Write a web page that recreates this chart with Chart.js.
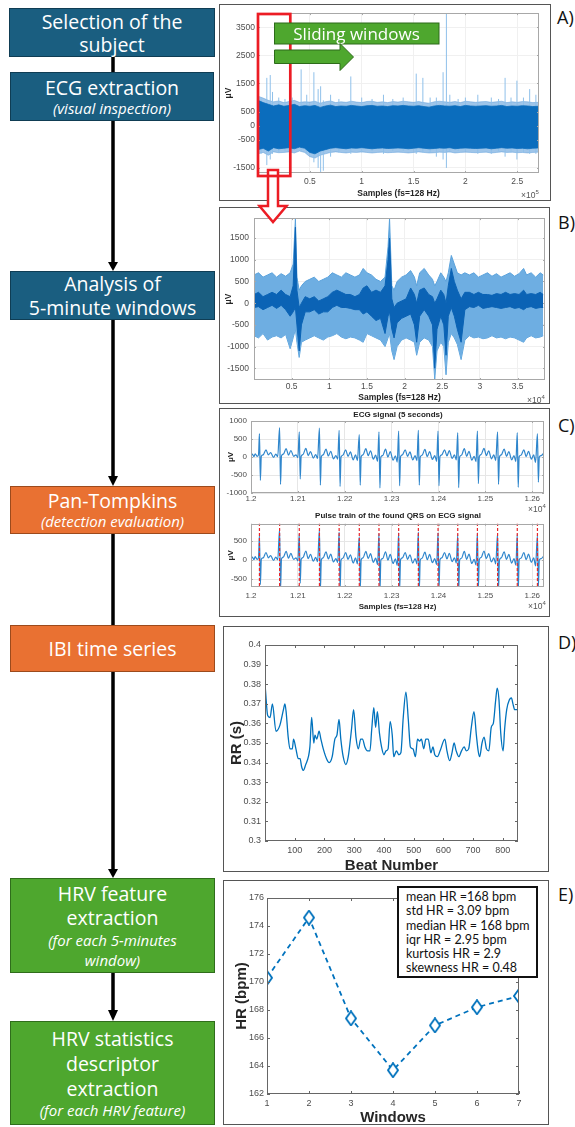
<!DOCTYPE html>
<html>
<head>
<meta charset="utf-8">
<script src="https://cdn.jsdelivr.net/npm/chart.js@4.4.1/dist/chart.umd.min.js"></script>
<style>
  html, body { margin: 0; padding: 0; background: #fff; }
  #page { position: relative; width: 575px; height: 1127px; overflow: hidden; font-family: 'Open Sans', sans-serif; }
  .box { position: absolute; box-sizing: border-box; color: #fff; display: flex; flex-direction: column;
         align-items: center; justify-content: center; text-align: center; }
  .teal   { background: #1a5e80; border: 1.5px solid #0f3d54; }
  .orange { background: #e97132; border: 1.5px solid #9c4a1c; }
  .green  { background: #4ea72e; border: 1.5px solid #2f6d1b; }
  .big { font-size: 19.5px; line-height: 23px; }
  .it  { font-style: italic; font-size: 15px; line-height: 19px; }
  .panel { position: absolute; box-sizing: border-box; border: 1px solid #555; }
  canvas { position: absolute; }
  .lab { position: absolute; font-size: 18px; color: #111; }
  .exp { position: absolute; font-family: 'Liberation Sans', Arial, sans-serif; font-size: 8.5px; color: #555; }
  .exp sup { font-size: 6px; }
  .ttl { position: absolute; font-family: 'Liberation Sans', Arial, sans-serif; font-weight: bold; font-size: 8px; color: #222; text-align: center; white-space: nowrap; }
  #stats { position: absolute; box-sizing: border-box; left: 397px; top: 886px; width: 141px; height: 92px;
           border: 2px solid #111; background: #fff; font-family: Lato, sans-serif; font-size: 12.5px; line-height: 14.3px;
           padding: 2px 0 0 7px; color: #111; }
  svg { position: absolute; left: 0; top: 0; }
</style>
</head>
<body>
<div id="page">

  <!-- flowchart -->
  <div class="box teal big" style="left:9px;top:8px;width:206px;height:49px">Selection of the<br>subject</div>
  <div class="box teal" style="left:10px;top:72px;width:204px;height:49px"><span class="big">ECG extraction</span><span class="it">(visual inspection)</span></div>
  <div class="box teal big" style="left:10px;top:271px;width:205px;height:49px;line-height:24px">Analysis of<br>5-minute windows</div>
  <div class="box orange" style="left:10px;top:486px;width:205px;height:48px"><span class="big">Pan-Tompkins</span><span class="it">(detection evaluation)</span></div>
  <div class="box orange big" style="left:10px;top:625px;width:205px;height:47px">IBI time series</div>
  <div class="box green" style="left:10px;top:878px;width:205px;height:95px"><span class="big" style="line-height:24px">HRV feature<br>extraction</span><span class="it" style="line-height:20px">(for each 5-minutes<br>window)</span></div>
  <div class="box green" style="left:10px;top:1021px;width:205px;height:104px"><span class="big" style="line-height:25px">HRV statistics<br>descriptor<br>extraction</span><span class="it">(for each HRV feature)</span></div>

  <!-- panels -->
  <div class="panel" style="left:219px;top:4px;width:332px;height:197px"></div>
  <div class="panel" style="left:219px;top:207px;width:331px;height:197px"></div>
  <div class="panel" style="left:219px;top:408px;width:331px;height:209px"></div>
  <div class="panel" style="left:223px;top:626px;width:326px;height:246px"></div>
  <div class="panel" style="left:223px;top:880px;width:326px;height:245px"></div>

  <canvas id="cA"  width="330" height="195" style="left:220px;top:5px"></canvas>
  <canvas id="cB"  width="329" height="195" style="left:220px;top:208px"></canvas>
  <canvas id="cC1" width="329" height="96"  style="left:220px;top:409px"></canvas>
  <canvas id="cC2" width="329" height="100" style="left:220px;top:515px"></canvas>
  <canvas id="cD"  width="324" height="252" style="left:224px;top:627px"></canvas>
  <canvas id="cE"  width="324" height="246" style="left:224px;top:881px"></canvas>

  <div class="exp" style="left:521px;top:189px">×10<sup>5</sup></div>
  <div class="exp" style="left:527px;top:394px">×10<sup>4</sup></div>
  <div class="exp" style="left:528px;top:503px">×10<sup>4</sup></div>
  <div class="exp" style="left:528px;top:600px">×10<sup>4</sup></div>
  <div class="ttl" style="left:298px;width:200px;top:410px">ECG signal (5 seconds)</div>
  <div class="ttl" style="left:248px;width:300px;top:511px">Pulse train of the found QRS on ECG signal</div>

  <div class="lab" style="left:557px;top:5px">A)</div>
  <div class="lab" style="left:558px;top:210px">B)</div>
  <div class="lab" style="left:558px;top:413px">C)</div>
  <div class="lab" style="left:558px;top:630px">D)</div>
  <div class="lab" style="left:558px;top:882px">E)</div>

  <div id="stats">mean HR =168 bpm<br>std HR = 3.09 bpm<br>median HR = 168 bpm<br>iqr HR = 2.95 bpm<br>kurtosis HR = 2.9<br>skewness HR = 0.48</div>

  <svg width="575" height="1127">
    <!-- connectors -->
    <g stroke="#000" stroke-width="3.5">
      <line x1="113" y1="57" x2="113" y2="72"/>
      <line x1="113" y1="121" x2="113" y2="263"/>
      <line x1="113" y1="320" x2="113" y2="477"/>
      <line x1="113" y1="534" x2="113" y2="625"/>
      <line x1="113" y1="672" x2="113" y2="870"/>
      <line x1="113" y1="973" x2="113" y2="1011"/>
    </g>
    <g fill="#000">
      <polygon points="108,262 118,262 113,271"/>
      <polygon points="108,476 118,476 113,486"/>
      <polygon points="108,869 118,869 113,878"/>
      <polygon points="108,1010 118,1010 113,1021"/>
    </g>
    <!-- sliding window overlay -->
    <polygon points="268,170 278,170 278,206 286.5,206 273,222 259.5,206 268,206" fill="#fff" stroke="#ec1c24" stroke-width="2.5"/>
    <rect x="258" y="14" width="32.3" height="162" fill="none" stroke="#ec1c24" stroke-width="2.7"/>
    <rect x="274.5" y="23" width="164.5" height="21" fill="#4ea72e" stroke="#2d6b1a" stroke-width="1"/>
    <text x="356.5" y="39.5" fill="#fff" font-family="Open Sans" font-size="17" text-anchor="middle">Sliding windows</text>
    <polygon points="274.5,50 340,50 340,43.5 353.5,57 340,70.5 340,63.5 274.5,63.5" fill="#4ea72e" stroke="#2d6b1a" stroke-width="1"/>
  </svg>
</div>

<script>
/* ── A) whole recording: band envelope, lighter fringe, isolated spikes ── */
const aX  = [0, 5000, 10000, 15000, 20000, 25000, 30000, 35000, 40000, 45000, 50000, 55000, 60000, 65000, 70000, 75000, 80000, 85000, 90000, 95000, 100000, 105000, 110000, 115000, 120000, 125000, 130000, 135000, 140000, 145000, 150000, 155000, 160000, 165000, 170000, 175000, 180000, 185000, 190000, 195000, 200000, 205000, 210000, 215000, 220000, 225000, 230000, 235000, 240000, 245000, 250000, 255000, 260000, 265000, 270000];
const aUp = [900, 820, 760, 700, 740, 690, 720, 760, 680, 710, 690, 720, 650, 700, 730, 680, 700, 690, 720, 700, 680, 710, 720, 690, 700, 680, 710, 700, 720, 700, 690, 710, 680, 660, 700, 720, 700, 690, 710, 680, 720, 700, 690, 700, 710, 690, 700, 720, 680, 700, 690, 710, 700, 680, 690];
const aLo = [-850, -800, -900, -780, -820, -800, -780, -820, -760, -800, -950, -1000, -900, -850, -800, -780, -800, -820, -790, -800, -780, -800, -820, -800, -790, -810, -800, -790, -800, -820, -800, -780, -800, -820, -810, -790, -800, -780, -820, -800, -790, -800, -810, -800, -790, -820, -800, -780, -800, -790, -810, -800, -820, -800, -790];
const aFrUp = [1050, 980, 900, 850, 880, 820, 860, 900, 830, 850, 840, 870, 800, 850, 880, 820, 850, 830, 870, 840, 820, 860, 870, 830, 850, 820, 860, 840, 870, 850, 830, 860, 820, 800, 850, 870, 850, 830, 860, 820, 870, 850, 830, 850, 860, 830, 850, 870, 820, 850, 830, 860, 850, 820, 830];
const aFrLo = [-1000, -950, -1050, -930, -960, -950, -930, -970, -900, -950, -1100, -1150, -1050, -1000, -950, -930, -950, -970, -940, -950, -930, -950, -970, -950, -940, -960, -950, -940, -950, -970, -950, -930, -950, -970, -960, -940, -950, -930, -970, -950, -940, -950, -960, -950, -940, -970, -950, -930, -950, -940, -960, -950, -970, -950, -940];
const aSpikeX  = [3000, 8500, 11800, 14000, 20000, 26000, 33000, 41600, 47000, 53900, 58000, 60400, 63000, 70000, 78000, 89500, 100000, 110000, 121000, 130000, 140000, 152600, 159000, 166000, 172000, 178500, 181700, 185000, 193000, 200000, 212000, 225000, 232000, 238300, 244000, 249700, 256000, 262000, 268000];
const aSpikeLo = [-1000, -1400, -1200, -1000, -950, -900, -950, -900, -1000, -1300, -1500, -1700, -1600, -1100, -950, -1000, -950, -900, -1000, -900, -900, -1000, -950, -950, -1100, -1200, -1500, -950, -900, -900, -1000, -1000, -900, -1100, -950, -1200, -950, -1000, -1000];
const aSpikeHi = [1000, 1700, 1800, 1200, 1000, 950, 1000, 2000, 1100, 1900, 1300, 1400, 900, 1100, 950, 1750, 1000, 950, 1100, 950, 1000, 1850, 1700, 1000, 1000, 1900, 4000, 1100, 950, 1000, 1100, 1000, 950, 1700, 1000, 1600, 1000, 1300, 1100];
const aXTicks = [50000, 100000, 150000, 200000, 250000];
const aYTicks = [-1500, -500, 0, 500, 1500, 2500, 3500];

/* ── B) one 5-minute window: light (full) and dark (core) envelopes ── */
const bX = [0, 600, 1200, 1800, 2400, 3000, 3600, 4200, 4800, 5200, 5500, 5700, 6000, 6300, 6800, 7400, 8000, 8600, 9200, 9800, 10400, 11000, 11600, 12200, 12800, 13400, 14000, 14500, 15000, 15600, 16200, 16800, 17400, 17800, 18000, 18300, 18600, 19000, 19600, 20200, 20800, 21300, 21600, 22000, 22600, 23200, 23700, 24000, 24300, 24800, 25200, 25500, 25800, 26200, 26600, 27000, 27500, 28000, 28600, 29200, 29800, 30400, 31000, 31600, 32200, 32800, 33400, 34000, 34600, 35200, 35800, 36200, 36800, 37400, 38000, 38400];
const bLightUp = [650, 700, 600, 650, 700, 600, 680, 620, 700, 900, 1950, 600, 300, 400, 500, 550, 600, 500, 550, 600, 700, 650, 600, 700, 650, 600, 650, 800, 700, 650, 550, 500, 600, 1300, 1950, 400, 300, 500, 600, 650, 750, 600, 400, 700, 800, 650, 550, 400, 500, 700, 600, 500, 700, 1100, 900, 700, 650, 700, 650, 700, 600, 650, 700, 620, 680, 600, 650, 700, 620, 680, 800, 650, 700, 600, 700, 650];
const bLightLo = [-750, -800, -700, -850, -780, -750, -800, -720, -1050, -800, -600, -900, -1250, -900, -850, -800, -750, -800, -850, -780, -750, -700, -780, -820, -780, -800, -850, -900, -700, -750, -800, -850, -1000, -800, -700, -1100, -1300, -1000, -850, -800, -850, -900, -1200, -900, -800, -850, -1000, -1750, -1100, -900, -1000, -1650, -900, -700, -800, -950, -1300, -850, -750, -800, -780, -820, -800, -750, -800, -780, -820, -780, -800, -850, -900, -800, -750, -800, -780, -750];
const bDarkUp = [200, 250, 150, 200, 250, 200, 300, 200, 150, 400, 1750, 300, -100, 0, 150, 100, 150, 50, 100, 150, 250, 300, 250, 200, 200, 150, 200, 350, 400, 250, 300, 250, 400, 1000, 1500, 100, -100, 0, 50, 100, 350, 200, 0, 300, 350, 200, 150, 0, 100, 300, 200, 0, 400, 800, 500, 300, 100, 250, 250, 200, 250, 200, 200, 180, 220, 200, 250, 200, 220, 200, 300, 200, 220, 200, 250, 200];
const bDarkLo = [-100, -80, -150, -100, -50, -120, -50, -150, -300, -200, -100, -500, -1100, -500, -200, -200, -150, -250, -200, -200, -100, -50, -100, -100, -120, -150, -150, -250, -200, -300, -400, -350, -700, -300, -200, -600, -800, -450, -350, -300, -250, -500, -900, -300, -150, -300, -500, -1500, -600, -300, -500, -1200, -300, -100, -300, -600, -900, -150, -80, -100, -50, -120, -100, -80, -100, -120, -100, -80, -120, -100, -150, -100, -80, -120, -100, -100];
const bXTicks = [5000, 10000, 15000, 20000, 25000, 30000, 35000];
const bYTicks = [-1500, -1000, -500, 0, 500, 1000, 1500];

/* ── C) 5 seconds of ECG and detected QRS ── */
const ecgX = [12000, 12003, 12006, 12009, 12013, 12016,
  12018, 12020, 12022, 12026, 12032, 12037, 12042, 12048, 12053, 12057,
  12061, 12063, 12065, 12069, 12075, 12080, 12085, 12091, 12096, 12100,
  12103, 12105, 12107, 12111, 12117, 12122, 12127, 12133, 12138, 12142,
  12146, 12148, 12150, 12154, 12160, 12165, 12170, 12176, 12181, 12185,
  12188, 12190, 12192, 12196, 12202, 12207, 12212, 12218, 12223, 12227,
  12231, 12233, 12235, 12239, 12245, 12250, 12255, 12261, 12266, 12270,
  12273, 12275, 12277, 12281, 12287, 12292, 12297, 12303, 12308, 12312,
  12315, 12317, 12319, 12323, 12329, 12334, 12339, 12345, 12350, 12354,
  12357, 12359, 12361, 12365, 12371, 12376, 12381, 12387, 12392, 12396,
  12399, 12401, 12403, 12407, 12413, 12418, 12423, 12429, 12434, 12438,
  12441, 12443, 12445, 12449, 12455, 12460, 12465, 12471, 12476, 12480,
  12483, 12485, 12487, 12491, 12497, 12502, 12507, 12513, 12518, 12522,
  12526, 12528, 12530, 12534, 12540, 12545, 12550, 12556, 12561, 12565,
  12568, 12570, 12572, 12576, 12582, 12587, 12592, 12598, 12603, 12607,
  12611, 12613, 12615, 12619, 12625];
const ecgY = [30, 80, 10, 90, 20, 60,
  650, -650, 20, 60, 200, 60, 120, -10, 80, 10,
  820, -760, 30, 80, 230, 50, 180, 20, 60, -20,
  700, -610, 20, 70, 240, 40, 150, -30, 70, -40,
  800, -780, 10, 60, 220, 30, 160, -50, 40, -60,
  740, -820, 0, 50, 200, 20, 140, -80, 60, -100,
  620, -780, 10, 60, 230, 40, 170, -60, 50, -120,
  700, -860, 0, 40, 220, 0, 150, -90, 30, -140,
  720, -800, 10, 60, 200, 20, 140, -80, 40, -100,
  740, -780, 0, 50, 210, 10, 150, -70, 40, -120,
  720, -800, 10, 60, 200, 30, 180, -40, 60, -80,
  680, -850, 0, 50, 230, 20, 160, -90, 20, -130,
  720, -740, 10, 70, 240, 40, 170, -50, 60, -100,
  700, -760, 0, 60, 220, 20, 150, -80, 40, -130,
  680, -840, 10, 50, 200, 10, 160, -60, 60, -150,
  650, -700, 0, 40, 120];
const qrsX = [12018, 12061, 12103, 12146, 12188, 12231, 12273, 12315, 12357, 12399, 12441, 12483, 12526, 12568, 12611];
const cXTicks  = [12000, 12100, 12200, 12300, 12400, 12500, 12600];
const c1YTicks = [-1000, -500, 0, 500, 1000];
const c2YTicks = [-500, 0, 500];

/* ── D) IBI series ── */
const rrBeat = [1, 9, 17, 25, 37, 50, 62, 67, 71, 78, 84, 92, 96, 104, 112, 118, 123, 129, 137, 146, 151, 157, 164, 168, 174, 182, 188, 196, 207, 216, 226, 235, 242, 249, 255, 263, 272, 280, 291, 298, 306, 314, 322, 328, 336, 345, 353, 359, 366, 372, 378, 385, 392, 400, 407, 414, 421, 428, 433, 442, 450, 457, 465, 474, 482, 489, 498, 506, 513, 520, 526, 534, 541, 549, 558, 565, 571, 580, 589, 605, 612, 621, 629, 636, 643, 652, 661, 670, 677, 685, 694, 703, 711, 717, 722, 730, 737, 745, 753, 761, 768, 776, 781, 787, 793, 801, 806, 813, 822, 829, 834, 840, 851];
const rrSec  = [0.378, 0.364, 0.363, 0.370, 0.356, 0.359, 0.367, 0.370, 0.366, 0.353, 0.347, 0.347, 0.352, 0.347, 0.342, 0.342, 0.338, 0.336, 0.339, 0.343, 0.348, 0.363, 0.350, 0.354, 0.352, 0.356, 0.352, 0.347, 0.342, 0.340, 0.343, 0.352, 0.354, 0.362, 0.352, 0.343, 0.339, 0.343, 0.357, 0.367, 0.353, 0.347, 0.352, 0.352, 0.348, 0.346, 0.346, 0.357, 0.368, 0.358, 0.366, 0.355, 0.348, 0.344, 0.346, 0.347, 0.361, 0.354, 0.343, 0.346, 0.344, 0.345, 0.363, 0.376, 0.362, 0.348, 0.347, 0.343, 0.352, 0.351, 0.352, 0.347, 0.352, 0.352, 0.345, 0.348, 0.344, 0.343, 0.346, 0.352, 0.346, 0.341, 0.345, 0.350, 0.346, 0.343, 0.346, 0.348, 0.346, 0.347, 0.358, 0.366, 0.354, 0.346, 0.343, 0.350, 0.353, 0.347, 0.346, 0.358, 0.360, 0.372, 0.378, 0.372, 0.355, 0.346, 0.357, 0.367, 0.372, 0.373, 0.370, 0.367, 0.367];
const dXTicks = [100, 200, 300, 400, 500, 600, 700, 800];
const dYTicks = [0.3, 0.31, 0.32, 0.33, 0.34, 0.35, 0.36, 0.37, 0.38, 0.39, 0.4];

/* ── E) mean HR per window ── */
const eWin = [1, 2, 3, 4, 5, 6, 7];
const eHr  = [170.3, 174.6, 167.4, 163.7, 166.9, 168.2, 169.0];
const eYTicks = [162, 164, 166, 168, 170, 172, 174, 176];

/* ── 工具 ── */
const BLUE = '#0072BD';
Chart.defaults.font.family = "'Liberation Sans', Arial, sans-serif";
Chart.defaults.animation = false;

const pts  = (xs, ys) => xs.map((x, i) => ({ x, y: ys[i] }));
const segs = (xs, lo, hi) => xs.flatMap((x, i) => [{ x, y: lo[i] }, { x, y: hi[i] }, { x, y: null }]);

// MATLAB style box with inward ticks
const boxTicks = {
  id: 'boxTicks',
  afterDatasetsDraw(chart, args, o) {
    const { ctx, chartArea: a, scales } = chart;
    const L = o.len || 3;
    ctx.save();
    ctx.strokeStyle = o.color || '#888';
    ctx.lineWidth = 1;
    ctx.beginPath();
    scales.x.ticks.forEach(t => {
      const p = Math.round(scales.x.getPixelForValue(t.value)) + 0.5;
      ctx.moveTo(p, a.bottom); ctx.lineTo(p, a.bottom - L);
      ctx.moveTo(p, a.top);    ctx.lineTo(p, a.top + L);
    });
    scales.y.ticks.forEach(t => {
      const p = Math.round(scales.y.getPixelForValue(t.value)) + 0.5;
      ctx.moveTo(a.left, p);  ctx.lineTo(a.left + L, p);
      ctx.moveTo(a.right, p); ctx.lineTo(a.right - L, p);
    });
    ctx.stroke();
    ctx.strokeRect(Math.round(a.left) + 0.5, Math.round(a.top) + 0.5, Math.round(a.width) - 1, Math.round(a.height) - 1);
    ctx.restore();
  }
};

function axis(o) {
  return {
    type: 'linear', min: o.min, max: o.max,
    afterFit: s => { if (o.w != null) s.width = o.w; if (o.h != null) s.height = o.h; },
    afterBuildTicks: s => { s.ticks = o.ticks.map(v => ({ value: v })); },
    grid: { display: !!o.grid, color: o.grid || '#eee', drawTicks: false },
    border: { display: false },
    ticks: { padding: o.pad, color: '#4d4d4d', font: { size: o.fs || 8.5 }, autoSkip: false, maxRotation: 0,
             callback: o.fmt || (v => String(v)) },
    title: o.title
      ? { display: true, text: o.title, color: '#262626', font: { size: o.tfs || 8.5, weight: 'bold' }, padding: o.tpad }
      : { display: false },
  };
}

function line(data, extra) {
  return Object.assign({ type: 'line', data, borderColor: BLUE, borderWidth: 1, pointRadius: 0,
                         tension: 0, fill: false, spanGaps: false, clip: 0 }, extra);
}

function mk(id, datasets, x, y, pad, box) {
  return new Chart(document.getElementById(id), {
    type: 'line',
    data: { datasets },
    options: {
      responsive: false, maintainAspectRatio: false,
      layout: { padding: pad },
      plugins: { legend: { display: false }, tooltip: { enabled: false }, boxTicks: box },
      scales: { x, y },
    },
    plugins: [boxTicks],
  });
}

/* A */
mk('cA', [
  line(pts(aX, aUp), { fill: '+1', backgroundColor: '#0b6dbd', borderColor: '#0b6dbd', borderWidth: 0.8 }),
  line(pts(aX, aLo), { borderColor: '#0b6dbd', borderWidth: 0.8 }),
  line(segs(aSpikeX, aSpikeLo, aSpikeHi), { borderColor: '#8fc0ea', borderWidth: 1 }),
  line(pts(aX, aFrUp), { fill: '+1', backgroundColor: 'rgba(80,150,215,0.55)', borderColor: 'rgba(80,150,215,0.55)', borderWidth: 0.8 }),
  line(pts(aX, aFrLo), { borderColor: 'rgba(80,150,215,0.55)', borderWidth: 0.8 }),
],
  axis({ min: 0, max: 271000, ticks: aXTicks, h: 27, pad: 4, fmt: v => String(v / 1e5), grid: '#f0f0f0',
         title: 'Samples (fs=128 Hz)', tpad: { top: 0, bottom: 1 } }),
  axis({ min: -1680, max: 4000, ticks: aYTicks, w: 38, pad: 3, grid: '#f0f0f0',
         title: 'μV', tpad: { top: 4, bottom: 0 } }),
  { top: 8, right: 11, left: 0, bottom: 0 }, { color: '#a8a8a8', len: 2 });

/* B */
mk('cB', [
  line(pts(bX, bDarkUp), { fill: '+1', backgroundColor: '#0b63b5', borderColor: '#0b63b5', borderWidth: 1 }),
  line(pts(bX, bDarkLo), { borderColor: '#0b63b5', borderWidth: 1 }),
  line(pts(bX, bLightUp), { fill: '+1', backgroundColor: '#6eaee2', borderColor: '#5aa2dc', borderWidth: 1 }),
  line(pts(bX, bLightLo), { borderColor: '#5aa2dc', borderWidth: 1 }),
],
  axis({ min: 0, max: 38640, ticks: bXTicks, h: 23, pad: 2, fmt: v => String(v / 1e4), grid: '#f0f0f0',
         title: 'Samples (fs=128 Hz)', tpad: { top: 0, bottom: 0 } }),
  axis({ min: -1770, max: 1960, ticks: bYTicks, w: 34, pad: 5, grid: '#f0f0f0',
         title: 'μV', tpad: { top: 4, bottom: 0 } }),
  { top: 5, right: 4, left: 0, bottom: 0 }, { color: '#a8a8a8', len: 2 });

/* C top */
const cFmt = v => String(+(v / 1e4).toFixed(2));
mk('cC1', [
  line(pts(ecgX, ecgY), { borderColor: '#2f86cc', borderWidth: 1.2, cubicInterpolationMode: 'monotone' }),
],
  axis({ min: 12000, max: 12625, ticks: cXTicks, h: 12, pad: 1, fs: 8, fmt: cFmt, grid: '#e6e6e6' }),
  axis({ min: -1000, max: 1000, ticks: c1YTicks, w: 31, pad: 4, fs: 8, grid: '#e6e6e6',
         title: 'μV', tfs: 8, tpad: { top: 6, bottom: 0 } }),
  { top: 12, right: 5, left: 0, bottom: 0 }, { color: '#a8a8a8', len: 2 });

/* C bottom */
mk('cC2', [
  line(qrsX.flatMap(x => [{ x, y: -2000 }, { x, y: 2000 }, { x, y: null }]), { borderColor: '#e8262a', borderWidth: 1.2, borderDash: [3, 2] }),
  line(pts(ecgX, ecgY), { borderColor: '#2f86cc', borderWidth: 1.2, cubicInterpolationMode: 'monotone' }),
],
  axis({ min: 12000, max: 12625, ticks: cXTicks, h: 28, pad: 4, fs: 8, fmt: cFmt, grid: '#e6e6e6',
         title: 'Samples (fs=128 Hz)', tfs: 8, tpad: { top: 0, bottom: 3 } }),
  axis({ min: -710, max: 958, ticks: c2YTicks, w: 31, pad: 4, fs: 8, grid: '#e6e6e6',
         title: 'μV', tfs: 8, tpad: { top: 6, bottom: 0 } }),
  { top: 5, right: 5, left: 0, bottom: 0 }, { color: '#a8a8a8', len: 2 });

/* D */
mk('cD', [
  line(pts(rrBeat, rrSec), { borderColor: BLUE, borderWidth: 1.3, cubicInterpolationMode: 'monotone' }),
],
  axis({ min: 0, max: 851, ticks: dXTicks, h: 38, pad: 4, fs: 9,
         title: 'Beat Number', tfs: 15, tpad: { top: 0, bottom: 4 } }),
  axis({ min: 0.3, max: 0.4, ticks: dYTicks, w: 41, pad: 4, fs: 9,
         title: 'RR (s)', tfs: 15, tpad: { top: 4, bottom: 0 } }),
  { top: 18, right: 30, left: 0, bottom: 0 }, { color: '#666', len: 3 });

/* E */
const diamond = document.createElement('canvas');
diamond.width = 12; diamond.height = 16;
(() => {
  const g = diamond.getContext('2d');
  g.fillStyle = '#fff'; g.strokeStyle = BLUE; g.lineWidth = 1.8;
  g.beginPath(); g.moveTo(6, 1); g.lineTo(11, 8); g.lineTo(6, 15); g.lineTo(1, 8); g.closePath();
  g.fill(); g.stroke();
})();
mk('cE', [
  line(pts(eWin, eHr), { borderColor: BLUE, borderWidth: 1.8, borderDash: [5, 4], pointStyle: diamond, pointRadius: 7 }),
],
  axis({ min: 1, max: 7, ticks: eWin, h: 33, pad: 4, fs: 9,
         title: 'Windows', tfs: 15, tpad: { top: 0, bottom: 0 } }),
  axis({ min: 162, max: 176, ticks: eYTicks, w: 43, pad: 3, fs: 9,
         title: 'HR (bpm)', tfs: 15, tpad: { top: 9, bottom: 0 } }),
  { top: 17, right: 29, left: 0, bottom: 0 }, { color: '#666', len: 3 });
</script>
</body>
</html>
